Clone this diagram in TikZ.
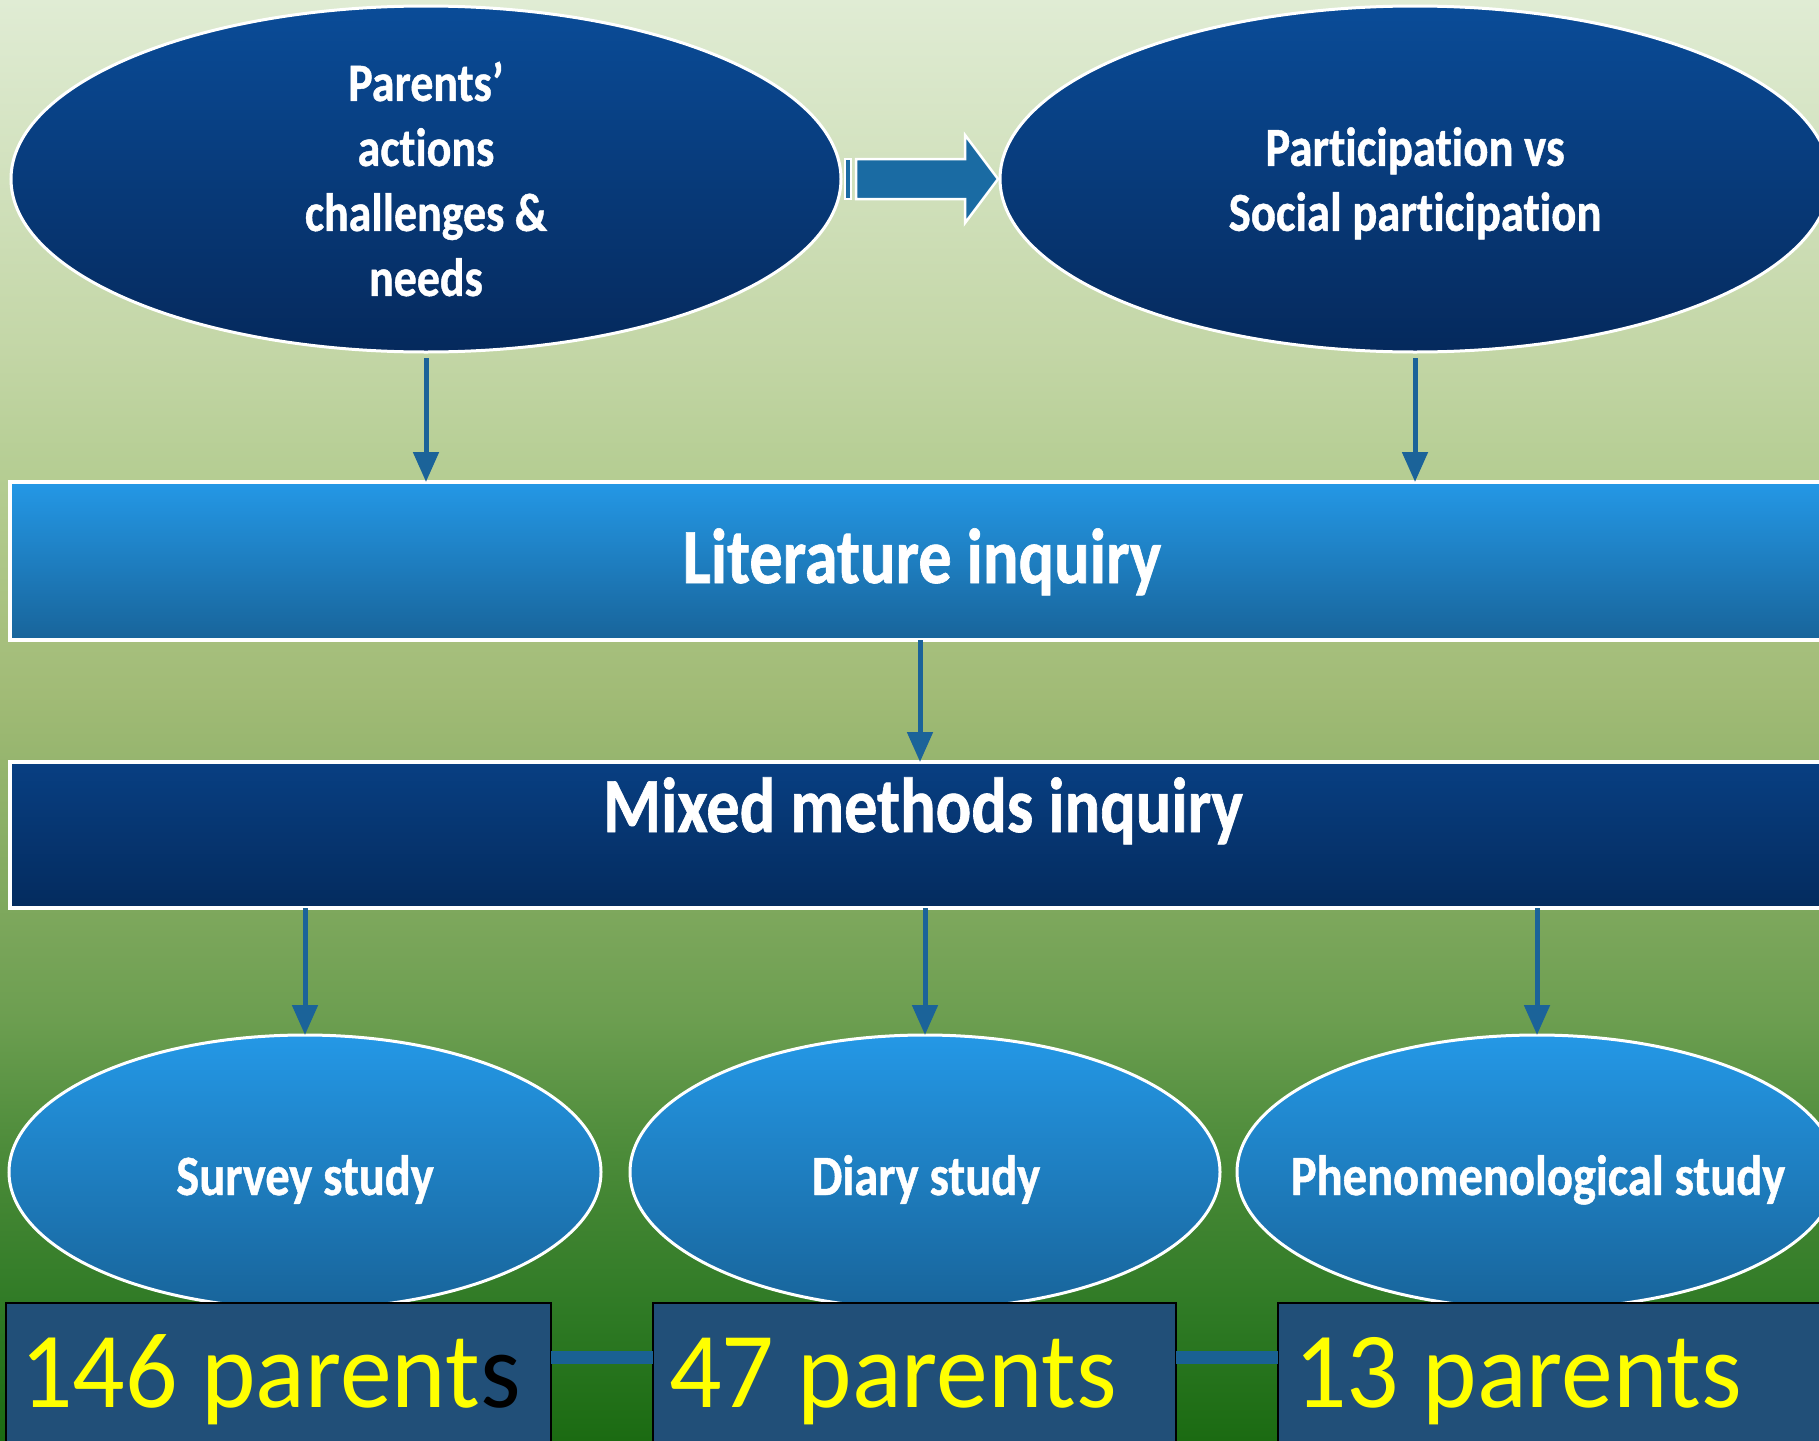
\documentclass[tikz,border=0pt]{standalone}
\usepackage{fontspec}
\setmainfont{Carlito}
\newfontfamily\lbl[FakeStretch=0.85, Ligatures=NoCommon, BoldFeatures={FakeBold=0.8}]{Carlito}
\newfontfamily\numfont[FakeStretch=0.96]{Carlito}
\usetikzlibrary{shapes.geometric,arrows.meta,calc}
\definecolor{bga}{HTML}{1B6B12}
\definecolor{bgb}{HTML}{2F7A25}
\definecolor{bgc}{HTML}{4A8A38}
\definecolor{bgd}{HTML}{6C9E50}
\definecolor{bge}{HTML}{A1BB76}
\definecolor{bgf}{HTML}{B6CE94}
\definecolor{bgg}{HTML}{C3D6A6}
\definecolor{bgh}{HTML}{E0ECD4}
\definecolor{etop}{HTML}{0A4C98}
\definecolor{ebot}{HTML}{05295C}
\definecolor{ltop}{HTML}{2498E6}
\definecolor{lbot}{HTML}{18649A}
\definecolor{mtop}{HTML}{083F82}
\definecolor{mbot}{HTML}{042B5E}
\definecolor{arrc}{HTML}{1B6399}
\definecolor{barrc}{HTML}{1A6BA3}
\definecolor{boxc}{HTML}{214F78}
\definecolor{connc}{HTML}{1A6193}
\definecolor{yel}{HTML}{FFFF00}
% TikZ maps the path onto 25bp..75bp of the shading
\pgfdeclareverticalshading{bgshade}{100bp}{color(0bp)=(bga); color(25bp)=(bga); color(29.5bp)=(bgb); color(34.7bp)=(bgc); color(39.6bp)=(bgd); color(50.9bp)=(bge); color(58.9bp)=(bgf); color(62.8bp)=(bgg); color(75bp)=(bgh); color(100bp)=(bgh)}
\begin{document}
\begin{tikzpicture}[x=1pt,y=-1pt,
  topell/.style={ellipse, draw=white, line width=3pt, top color=etop, bottom color=ebot,
    minimum width=830pt, minimum height=346pt, inner sep=0pt, outer sep=0pt, text=white,
    font=\lbl\bfseries\fontsize{54}{65}\selectfont, align=center},
  botell/.style={ellipse, draw=white, line width=3pt, top color=ltop, bottom color=lbot,
    minimum height=274pt, inner sep=0pt, outer sep=0pt},
  band/.style={rectangle, draw=white, line width=4pt, minimum width=1820pt, inner sep=0pt, outer sep=0pt},
  bigtxt/.style={anchor=base, text=white, inner sep=0pt, font=\lbl\bfseries\fontsize{78}{78}\selectfont},
  studytxt/.style={anchor=base, text=white, inner sep=0pt, font=\lbl\bfseries\fontsize{57}{57}\selectfont},
  numbox/.style={rectangle, draw=black, line width=1.5pt, fill=boxc, minimum height=157pt, inner sep=0pt, outer sep=0pt},
  numtxt/.style={anchor=base west, text=yel, inner sep=0pt, font=\numfont\fontsize{108}{108}\selectfont},
  arr/.style={draw=arrc, line width=5pt, -{Triangle[width=25pt,length=30pt]}},
  conn/.style={draw=connc, line width=13pt}
]
\useasboundingbox (0,0) rectangle (1819,1440);
\clip (0,0) rectangle (1819,1440);
\shade[shading=bgshade] (0,0) rectangle (1819,1440);

% top ellipses
\node[topell] (pa) at (426,179) {Parents’\\actions\\challenges \&\\needs};
\node[topell, text depth=0pt, font=\lbl\bfseries\fontsize{55}{65}\selectfont] (pr) at (1415,179) {Participation vs\\Social participation};

% block arrow
\fill[barrc, draw=white, line width=2pt] ($(pa.east)+(4,-20)$) rectangle ($(pa.east)+(10,20)$);
\fill[barrc, draw=white, line width=2.5pt] ($(pa.east)+(15,-20)$) -- ($(pa.east)+(124,-20)$) -- ($(pa.east)+(124,-44)$) -- ([xshift=-2pt]pr.west) -- ($(pa.east)+(124,44)$) -- ($(pa.east)+(124,20)$) -- ($(pa.east)+(15,20)$) -- cycle;

% bands
\node[band, top color=ltop, bottom color=lbot, minimum height=158pt] (lit) at (920,561) {};
\node[bigtxt] (littxt) at (922,583) {Literature inquiry};
\node[band, top color=mtop, bottom color=mbot, minimum height=146pt] (mm) at (920,835) {};
\node[bigtxt] (mmtxt) at (923,832) {Mixed methods inquiry};

% bottom ellipses
\node[botell, minimum width=592pt] (s1) at (305,1172) {};
\node[botell, minimum width=590pt] (s2) at (925,1172) {};
\node[botell, minimum width=600pt] (s3) at (1537,1172) {};
\node[studytxt] (s1t) at (305,1195) {Survey study};
\node[studytxt] (s2t) at (926,1195) {Diary study};
\node[studytxt] (s3t) at (1538,1195) {Phenomenological study};

% number boxes
\node[numbox, minimum width=545pt] (b1) at (278.5,1381.5) {};
\node[numbox, minimum width=523pt] (b2) at (914.5,1381.5) {};
\node[numbox, minimum width=562pt] (b3) at (1559,1381.5) {};
\node[numtxt] (n1) at (20,1407) {146 parent{\color{black}s}};
\node[numtxt] (n2) at (669,1407) {47 parents};
\node[numtxt] (n3) at (1294,1407) {13 parents};

% connectors
\draw[arr] ([yshift=-6pt]pa.south) -- (pa.south |- lit.north);
\draw[arr] ([yshift=-6pt]pr.south) -- (pr.south |- lit.north);
\draw[arr] (lit.south) -- (lit.south |- mm.north);
\draw[arr] (mm.south -| s1.north) -- (s1.north);
\draw[arr] (mm.south -| s2.north) -- (s2.north);
\draw[arr] (mm.south -| s3.north) -- (s3.north);
\draw[conn] ([yshift=24.5pt]b1.east) -- ([yshift=24.5pt]b2.west);
\draw[conn] ([yshift=24.5pt]b2.east) -- ([yshift=24.5pt]b3.west);
\end{tikzpicture}
\end{document}
